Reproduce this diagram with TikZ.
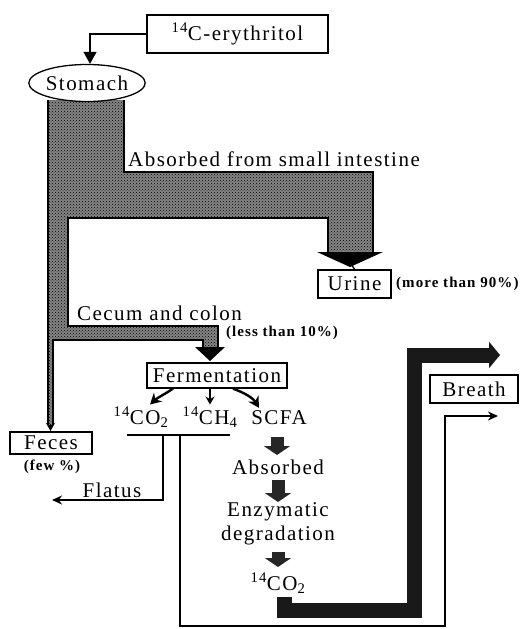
\documentclass[tikz,border=0pt]{standalone}
\usepackage{fontspec}
\setmainfont{Liberation Serif}
\newfontfamily\trk[LetterSpace=7]{Liberation Serif}
\usetikzlibrary{arrows.meta,shapes.geometric,patterns,calc}
\tikzset{
  lbl/.style={font=\trk\fontsize{21}{24}\selectfont, inner sep=0pt},
  note/.style={font=\trk\bfseries\fontsize{15}{17}\selectfont, inner sep=0pt},
  box/.style={draw, line width=1.3pt, inner sep=0pt, lbl},
  thinline/.style={line width=1.8pt},
  blk/.style={line width=13pt, draw=black!85, -{Triangle[length=9pt,width=26pt]}},
  stip/.style={fill=black!48, postaction={pattern=crosshatch dots, pattern color=black}},
}
\begin{document}
\begin{tikzpicture}[x=1pt,y=-1pt]
\useasboundingbox (0,0) rectangle (529,629);

% stippled tract
\path[stip] (48,100) -- (124,100) -- (124,172) -- (373,172) -- (373,252) -- (328,252)
  -- (328,218) -- (68,218) -- (68,326) -- (218,326) -- (218,348) -- (203,348)
  -- (203,340) -- (53,340) -- (53,425) -- (48,425) -- cycle;
\draw[line width=1.2pt] (48,100) -- (48,425);
\draw[line width=1.2pt] (124,100) -- (124,172) -- (373,172) -- (373,252);
\draw[line width=1.2pt] (328,252) -- (328,218) -- (68,218) -- (68,326) -- (218,326) -- (218,348);
\draw[line width=1.2pt] (203,348) -- (203,340) -- (53,340) -- (53,425);

% nodes
\node[box, minimum width=181pt, minimum height=38pt] (ery) at (237.5,34) {\textsuperscript{14}C-erythritol};
\node[ellipse, draw, fill=white, line width=1.3pt, minimum width=102pt, minimum height=37pt, inner sep=0pt, lbl] (stomach) at (87,83) {Stomach};
\node[lbl, anchor=base west] (absorbsi) at (128,166) {Absorbed from small intestine};
\node[box, minimum width=73pt, minimum height=28pt] (urine) at (354.5,284) {Urine};
\node[note, anchor=west] (more) at (396,284) {(more than 90\%)};
\node[lbl, anchor=base west] (cecum) at (77,320) {Cecum and colon};
\node[note, anchor=west] (less) at (226,333) {(less than 10\%)};
\node[box, minimum width=140pt, minimum height=25pt] (ferm) at (217,375.5) {Fermentation};
\node[lbl, anchor=base] (co2) at (141,424) {\textsuperscript{14}CO\textsubscript{2}};
\node[lbl, anchor=base] (ch4) at (210,424) {\textsuperscript{14}CH\textsubscript{4}};
\node[lbl, anchor=base] (scfa) at (279,424) {SCFA};
\node[box, minimum width=82pt, minimum height=22pt] (feces) at (51,443) {Feces};
\node[note] (few) at (52,467) {(few \%)};
\node[lbl] (flatus) at (112,490) {Flatus};
\node[lbl] (absorbed) at (278,467) {Absorbed};
\node[lbl] (enzy) at (278,512) {Enzymatic};
\node[lbl] (degr) at (278,535) {degradation};
\node[lbl] (co2b) at (278,583) {\textsuperscript{14}CO\textsubscript{2}};
\node[box, minimum width=88pt, minimum height=28pt] (breath) at (474,389) {Breath};

% arrowheads of the tract
\fill (317,252) -- (383,252) -- (350,267) -- cycle;
\draw[line width=1.4pt] (350,262) -- (urine.north);
\fill (195,347) -- (225,347) -- (210,361) -- cycle;
\draw[line width=1.2pt, -{Stealth[length=8pt,width=9pt]}] (50.5,424) -- (50.5,431);

% erythritol to stomach
\draw[line width=1.3pt, -{Triangle[length=12pt,width=13pt]}] (ery.west) -| ($(stomach.north)+(3,0)$);

% fermentation products
\draw[line width=2.4pt, -{Stealth[length=11pt,width=12pt]}] ($(ferm.south)+(-44,0)$) .. controls (165,394) and (157,398) .. ($(co2.north)+(9,-2)$);
\draw[line width=1.6pt, -{Stealth[length=8pt,width=9pt]}] (ferm.south -| ch4) -- ($(ch4.north)+(0,-2)$);
\draw[line width=2.4pt, -{Stealth[length=11pt,width=12pt]}] ($(ferm.south)+(16,0)$) .. controls (245,393) and (253,398) .. ($(scfa.north)+(-20,-2)$);

% gas collection and outlets
\coordinate (gl) at (127,435);
\coordinate (gr) at (230,435);
\draw[thinline] (gl) -- (gr);
\coordinate (fl) at (163,435);
\coordinate (flend) at (52,500);
\draw[thinline, -{Stealth[length=10pt,width=9pt]}] (fl) |- (flend);
\coordinate (br) at (180,435);
\coordinate (brend) at (498,416);
\draw[thinline, -{Stealth[length=10pt,width=9pt]}] (br) -- (180,626) -- (445,626) -- (445,416) -- (brend);

% SCFA pathway
\draw[blk] (277,437) -- (277,455);
\draw[blk] (278,480) -- (278,502);
\draw[blk] (278,552) -- (278,567);

% thick breath route
\coordinate (thickend) at (500,355);
\draw[line width=15pt, draw=black!90, line join=miter, -{Triangle[length=11pt,width=26pt]}] ($(co2b.south)+(6,4)$) -- (284,610) -- (414,610) -- (414,355) -- (thickend);
\end{tikzpicture}
\end{document}
